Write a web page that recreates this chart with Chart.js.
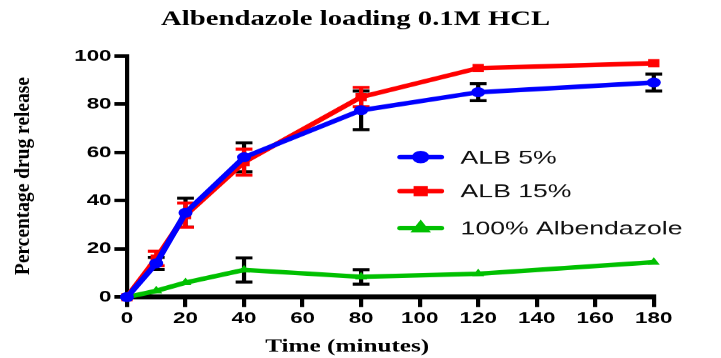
<!DOCTYPE html>
<html>
<head>
<meta charset="utf-8">
<script src="https://cdn.jsdelivr.net/npm/chart.js@4.4.0/dist/chart.umd.min.js"></script>
<style>
  body { margin: 0; background: #fff; }
  #wrap { width: 721px; height: 358px; overflow: hidden; }
  /* the original figure is stretched sideways, so draw narrow and stretch */
  #c { transform: scaleX(1.4); transform-origin: 0 0; }
</style>
</head>
<body>
<div id="wrap"><canvas id="c" width="515" height="358" style="width:515px;height:358px"></canvas></div>
<script>
const times = [0, 10, 20, 40, 80, 120, 180];
const xTicks = [0, 20, 40, 60, 80, 100, 120, 140, 160, 180];
const yTicks = [0, 20, 40, 60, 80, 100];

const alb5 = [0, 14, 35, 58, 77.5, 85, 89];
const alb5Err = [0, 2.5, 6, 6, 8, 3.5, 3.5];
const alb15 = [0, 16, 34, 56, 83, 95, 97];
const alb15Err = [0, 3, 5, 5.4, 4, 0, 0];
const pure = [0, 2.6, 6, 11.3, 8.4, 9.7, 14.5];
const pureErr = [0, 0, 0, 5, 3, 0, 0];

const toPts = arr => arr.map((v, i) => ({ x: times[i], y: v }));
const serif = '"Liberation Serif", "Times New Roman", serif';

// error bars, drawn under the lines
const errorBars = {
  id: 'errorBars',
  beforeDatasetsDraw(chart) {
    const ctx = chart.ctx;
    const xs = chart.scales.x, ys = chart.scales.y;
    chart.data.datasets.forEach(ds => {
      ctx.save();
      ctx.strokeStyle = ds.errColor;
      ctx.lineWidth = 3;
      ds.data.forEach((p, i) => {
        const e = ds.err[i];
        if (!e) return;
        const x = xs.getPixelForValue(p.x);
        const y1 = ys.getPixelForValue(p.y + e);
        const y2 = ys.getPixelForValue(p.y - e);
        ctx.beginPath();
        ctx.moveTo(x, y1); ctx.lineTo(x, y2);
        ctx.moveTo(x - 6, y1); ctx.lineTo(x + 6, y1);
        ctx.moveTo(x - 6, y2); ctx.lineTo(x + 6, y2);
        ctx.stroke();
      });
      ctx.restore();
    });
  }
};

// legend inside the plot + titles (the figure's titles sit off-centre)
const extras = {
  id: 'extras',
  afterDraw(chart) {
    const ctx = chart.ctx;
    const rows = [157, 191, 228];
    chart.data.datasets.forEach((ds, i) => {
      const y = rows[i];
      ctx.save();
      ctx.strokeStyle = ds.borderColor;
      ctx.lineWidth = 4.5;
      ctx.lineCap = 'round';
      ctx.beginPath();
      ctx.moveTo(286, y); ctx.lineTo(315, y);
      ctx.stroke();
      ctx.fillStyle = ds.borderColor;
      Chart.helpers.drawPoint(ctx, {
        pointStyle: ds.pointStyle, radius: 4, borderWidth: 1, rotation: 0
      }, 300.5, y);
      ctx.fillStyle = '#111';
      ctx.font = '19px "Liberation Sans", Arial, sans-serif';
      ctx.textBaseline = 'middle';
      ctx.fillText(ds.label, 329, y + 1);
      ctx.restore();
    });
    ctx.save();
    ctx.fillStyle = '#000';
    ctx.textAlign = 'center';
    ctx.textBaseline = 'middle';
    ctx.font = 'bold 20.5px ' + serif;
    ctx.fillText('Albendazole loading 0.1M HCL', 254, 20);
    ctx.font = 'bold 18px ' + serif;
    ctx.fillText('Time (minutes)', 248, 347);
    // y title, squeezed across and drawn long like the figure
    const yt = 'Percentage drug release';
    ctx.font = 'bold 15px ' + serif;
    const w = ctx.measureText(yt).width;
    ctx.translate(16.5, 176);
    ctx.rotate(-Math.PI / 2);
    ctx.scale(198 / w, 1);
    ctx.fillText(yt, 0, 0);
    ctx.restore();
  }
};

const tickFont = { family: '"Liberation Sans", Arial, sans-serif', size: 16, weight: 'bold' };

new Chart(document.getElementById('c'), {
  type: 'line',
  data: {
    datasets: [
      { label: 'ALB 5%', data: toPts(alb5), err: alb5Err, errColor: '#000',
        borderColor: '#0000ff', backgroundColor: '#0000ff', pointStyle: 'circle', pointRadius: 4.5 },
      { label: 'ALB 15%', data: toPts(alb15), err: alb15Err, errColor: '#ff0000',
        borderColor: '#ff0000', backgroundColor: '#ff0000', pointStyle: 'rect', pointRadius: 5 },
      { label: '100% Albendazole', data: toPts(pure), err: pureErr, errColor: '#000',
        borderColor: '#00c000', backgroundColor: '#00c000', pointStyle: 'triangle', pointRadius: 4 }
    ]
  },
  plugins: [errorBars, extras],
  options: {
    responsive: false,
    devicePixelRatio: 1.4,
    animation: false,
    layout: { padding: { left: 0, right: 48, top: 56, bottom: 0 } },
    datasets: { line: { borderWidth: 4.5, tension: 0, clip: false, pointBorderWidth: 1 } },
    plugins: {
      legend: { display: false },
      tooltip: { enabled: false },
      title: { display: false }
    },
    scales: {
      x: {
        type: 'linear', min: 0, max: 180,
        afterFit: s => { s.height = 61; },
        afterBuildTicks: s => { s.ticks = xTicks.map(v => ({ value: v })); },
        border: { display: true, color: '#000', width: 5 },
        grid: { drawOnChartArea: false, drawTicks: true, tickLength: 10, color: '#000', lineWidth: 3 },
        ticks: { color: '#000', font: tickFont, padding: 2, maxRotation: 0 }
      },
      y: {
        min: 0, max: 100,
        afterFit: s => { s.width = 90.7; },
        afterBuildTicks: s => { s.ticks = yTicks.map(v => ({ value: v })); },
        border: { display: true, color: '#000', width: 3 },
        grid: { drawOnChartArea: false, drawTicks: true, tickLength: 9, color: '#000', lineWidth: 3.5 },
        ticks: { color: '#000', font: tickFont, padding: 2 }
      }
    }
  }
});
</script>
</body>
</html>
